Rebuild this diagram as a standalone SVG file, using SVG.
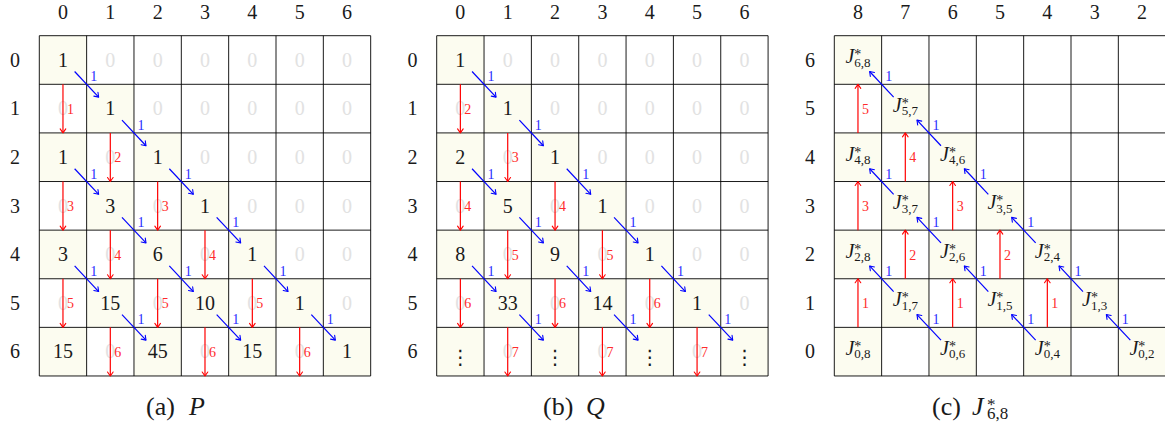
<svg xmlns="http://www.w3.org/2000/svg" xmlns:xlink="http://www.w3.org/1999/xlink" width="1165" height="427" viewBox="0 0 1165 427">
<style>
.hl{fill:#fcfcf0}
.grid{fill:none;stroke:#000;stroke-width:0.9}
.num,.zero,.hd,.cap,.jt{font-family:"Liberation Serif","DejaVu Serif",serif;text-anchor:middle}
.num{font-size:20px;fill:#1a1a1a}
.zero{font-size:20px;fill:#e2e2e2}
.hd{font-size:20px;fill:#1a1a1a}
.jt{font-size:20px;fill:#1a1a1a}
.it{font-style:italic}
.sup{font-size:14px}
.sub{font-size:13px}
.vd{font-family:"DejaVu Sans",sans-serif;font-size:20px;fill:#1a1a1a;text-anchor:middle}
.red{stroke:#ff0000;stroke-width:1.2;fill:none;marker-end:url(#ar)}
.blue{stroke:#0000ff;stroke-width:1.2;fill:none;marker-end:url(#ab)}
.rl{font-family:"Liberation Serif","DejaVu Serif",serif;font-size:14px;fill:#ff2b2b;text-anchor:middle}
.bl{font-family:"Liberation Serif","DejaVu Serif",serif;font-size:14px;fill:#2b2bff;text-anchor:middle}
.cap{font-size:26px;fill:#1a1a1a;text-anchor:start}
</style>
<defs>
<marker id="ar" viewBox="-5 -4 6 8" refX="0" refY="0" markerWidth="6" markerHeight="8" markerUnits="userSpaceOnUse" orient="auto" overflow="visible"><path d="M-4,-2.8 L0,0 L-4,2.8" fill="none" stroke="#ff0000" stroke-width="1.1" stroke-linecap="round" stroke-linejoin="round"/></marker>
<marker id="ab" viewBox="-5 -4 6 8" refX="0" refY="0" markerWidth="6" markerHeight="8" markerUnits="userSpaceOnUse" orient="auto" overflow="visible"><path d="M-4,-2.8 L0,0 L-4,2.8" fill="none" stroke="#0000ff" stroke-width="1.1" stroke-linecap="round" stroke-linejoin="round"/></marker>
<path id="gridlines" class="grid" d="M39.3,35.7H370.68V375.97H39.3Z M86.64,35.7V375.97 M133.98,35.7V375.97 M181.32,35.7V375.97 M228.66,35.7V375.97 M276,35.7V375.97 M323.34,35.7V375.97 M39.3,84.31H370.68 M39.3,132.92H370.68 M39.3,181.53H370.68 M39.3,230.14H370.68 M39.3,278.75H370.68 M39.3,327.36H370.68"/>
<g id="heads">
<text class="hd" x="15" y="66.7">0</text><text class="hd" x="15" y="115.3">1</text><text class="hd" x="15" y="163.9">2</text><text class="hd" x="15" y="212.5">3</text><text class="hd" x="15" y="261.2">4</text><text class="hd" x="15" y="309.8">5</text><text class="hd" x="15" y="358.4">6</text>
<text class="hd" x="62.97" y="18.5">0</text><text class="hd" x="110.31" y="18.5">1</text><text class="hd" x="157.65" y="18.5">2</text><text class="hd" x="204.99" y="18.5">3</text><text class="hd" x="252.33" y="18.5">4</text><text class="hd" x="299.67" y="18.5">5</text><text class="hd" x="347.01" y="18.5">6</text>
</g>
<g id="zeros">
<text class="zero" x="110.31" y="66.7">0</text><text class="zero" x="157.65" y="66.7">0</text><text class="zero" x="204.99" y="66.7">0</text><text class="zero" x="252.33" y="66.7">0</text><text class="zero" x="299.67" y="66.7">0</text><text class="zero" x="347.01" y="66.7">0</text>
<text class="zero" x="62.97" y="115.3">0</text><text class="zero" x="157.65" y="115.3">0</text><text class="zero" x="204.99" y="115.3">0</text><text class="zero" x="252.33" y="115.3">0</text><text class="zero" x="299.67" y="115.3">0</text><text class="zero" x="347.01" y="115.3">0</text>
<text class="zero" x="110.31" y="163.9">0</text><text class="zero" x="204.99" y="163.9">0</text><text class="zero" x="252.33" y="163.9">0</text><text class="zero" x="299.67" y="163.9">0</text><text class="zero" x="347.01" y="163.9">0</text>
<text class="zero" x="62.97" y="212.5">0</text><text class="zero" x="157.65" y="212.5">0</text><text class="zero" x="252.33" y="212.5">0</text><text class="zero" x="299.67" y="212.5">0</text><text class="zero" x="347.01" y="212.5">0</text>
<text class="zero" x="110.31" y="261.2">0</text><text class="zero" x="204.99" y="261.2">0</text><text class="zero" x="299.67" y="261.2">0</text><text class="zero" x="347.01" y="261.2">0</text>
<text class="zero" x="62.97" y="309.8">0</text><text class="zero" x="157.65" y="309.8">0</text><text class="zero" x="252.33" y="309.8">0</text><text class="zero" x="347.01" y="309.8">0</text>
<text class="zero" x="110.31" y="358.4">0</text><text class="zero" x="204.99" y="358.4">0</text><text class="zero" x="299.67" y="358.4">0</text>
</g>
<g id="redDown">
<path class="red" d="M62.97,84.31V132.92"/>
<path class="red" d="M110.31,132.92V181.53"/>
<path class="red" d="M62.97,181.53V230.14"/><path class="red" d="M157.65,181.53V230.14"/>
<path class="red" d="M110.31,230.14V278.75"/><path class="red" d="M204.99,230.14V278.75"/>
<path class="red" d="M62.97,278.75V327.36"/><path class="red" d="M157.65,278.75V327.36"/><path class="red" d="M252.33,278.75V327.36"/>
<path class="red" d="M110.31,327.36V375.97"/><path class="red" d="M204.99,327.36V375.97"/><path class="red" d="M299.67,327.36V375.97"/>
</g>
<g id="blueDown">
<path class="blue" d="M74.64,71.51L98.64,97.11"/>
<path class="blue" d="M121.98,120.12L145.98,145.72"/>
<path class="blue" d="M74.64,168.73L98.64,194.33"/><path class="blue" d="M169.32,168.73L193.32,194.33"/>
<path class="blue" d="M121.98,217.34L145.98,242.94"/><path class="blue" d="M216.66,217.34L240.66,242.94"/>
<path class="blue" d="M74.64,265.95L98.64,291.55"/><path class="blue" d="M169.32,265.95L193.32,291.55"/><path class="blue" d="M264,265.95L288,291.55"/>
<path class="blue" d="M121.98,314.56L145.98,340.16"/><path class="blue" d="M216.66,314.56L240.66,340.16"/><path class="blue" d="M311.34,314.56L335.34,340.16"/>
</g>
<g id="blueLabels">
<text class="bl" x="93.64" y="81.31">1</text><text class="bl" x="140.98" y="129.92">1</text><text class="bl" x="93.64" y="178.53">1</text><text class="bl" x="188.32" y="178.53">1</text><text class="bl" x="140.98" y="227.14">1</text><text class="bl" x="235.66" y="227.14">1</text><text class="bl" x="93.64" y="275.75">1</text><text class="bl" x="188.32" y="275.75">1</text><text class="bl" x="283" y="275.75">1</text><text class="bl" x="140.98" y="324.36">1</text><text class="bl" x="235.66" y="324.36">1</text><text class="bl" x="330.34" y="324.36">1</text>
</g>
</defs>

<g id="panel-a">
<use href="#heads"/>
<g id="a-cells">
<g id="a-0-0"><rect class="hl" x="39.3" y="35.7" width="47.34" height="48.61"/><text class="num" x="62.97" y="66.7">1</text></g>
<g id="a-1-1"><rect class="hl" x="86.64" y="84.31" width="47.34" height="48.61"/><text class="num" x="110.31" y="115.3">1</text></g>
<g id="a-2-0"><rect class="hl" x="39.3" y="132.92" width="47.34" height="48.61"/><text class="num" x="62.97" y="163.9">1</text></g>
<g id="a-2-2"><rect class="hl" x="133.98" y="132.92" width="47.34" height="48.61"/><text class="num" x="157.65" y="163.9">1</text></g>
<g id="a-3-1"><rect class="hl" x="86.64" y="181.53" width="47.34" height="48.61"/><text class="num" x="110.31" y="212.5">3</text></g>
<g id="a-3-3"><rect class="hl" x="181.32" y="181.53" width="47.34" height="48.61"/><text class="num" x="204.99" y="212.5">1</text></g>
<g id="a-4-0"><rect class="hl" x="39.3" y="230.14" width="47.34" height="48.61"/><text class="num" x="62.97" y="261.2">3</text></g>
<g id="a-4-2"><rect class="hl" x="133.98" y="230.14" width="47.34" height="48.61"/><text class="num" x="157.65" y="261.2">6</text></g>
<g id="a-4-4"><rect class="hl" x="228.66" y="230.14" width="47.34" height="48.61"/><text class="num" x="252.33" y="261.2">1</text></g>
<g id="a-5-1"><rect class="hl" x="86.64" y="278.75" width="47.34" height="48.61"/><text class="num" x="110.31" y="309.8">15</text></g>
<g id="a-5-3"><rect class="hl" x="181.32" y="278.75" width="47.34" height="48.61"/><text class="num" x="204.99" y="309.8">10</text></g>
<g id="a-5-5"><rect class="hl" x="276" y="278.75" width="47.34" height="48.61"/><text class="num" x="299.67" y="309.8">1</text></g>
<g id="a-6-0"><rect class="hl" x="39.3" y="327.36" width="47.34" height="48.61"/><text class="num" x="62.97" y="358.4">15</text></g>
<g id="a-6-2"><rect class="hl" x="133.98" y="327.36" width="47.34" height="48.61"/><text class="num" x="157.65" y="358.4">45</text></g>
<g id="a-6-4"><rect class="hl" x="228.66" y="327.36" width="47.34" height="48.61"/><text class="num" x="252.33" y="358.4">15</text></g>
<g id="a-6-6"><rect class="hl" x="323.34" y="327.36" width="47.34" height="48.61"/><text class="num" x="347.01" y="358.4">1</text></g>
</g>
<use href="#zeros"/>
<use href="#gridlines"/>
<g id="a-connectors">
<use href="#redDown"/>
<use href="#blueDown"/>
<use href="#blueLabels"/>
<text class="rl" x="70.47" y="113.6">1</text>
<text class="rl" x="117.81" y="162.2">2</text>
<text class="rl" x="70.47" y="210.8">3</text><text class="rl" x="165.15" y="210.8">3</text>
<text class="rl" x="117.81" y="259.5">4</text><text class="rl" x="212.49" y="259.5">4</text>
<text class="rl" x="70.47" y="308.1">5</text><text class="rl" x="165.15" y="308.1">5</text><text class="rl" x="259.83" y="308.1">5</text>
<text class="rl" x="117.81" y="356.7">6</text><text class="rl" x="212.49" y="356.7">6</text><text class="rl" x="307.17" y="356.7">6</text>
</g>
</g>

<g id="panel-b" transform="translate(397.4,0)">
<use href="#heads"/>
<g id="b-cells">
<g id="b-0-0"><rect class="hl" x="39.3" y="35.7" width="47.34" height="48.61"/><text class="num" x="62.97" y="66.7">1</text></g>
<g id="b-1-1"><rect class="hl" x="86.64" y="84.31" width="47.34" height="48.61"/><text class="num" x="110.31" y="115.3">1</text></g>
<g id="b-2-0"><rect class="hl" x="39.3" y="132.92" width="47.34" height="48.61"/><text class="num" x="62.97" y="163.9">2</text></g>
<g id="b-2-2"><rect class="hl" x="133.98" y="132.92" width="47.34" height="48.61"/><text class="num" x="157.65" y="163.9">1</text></g>
<g id="b-3-1"><rect class="hl" x="86.64" y="181.53" width="47.34" height="48.61"/><text class="num" x="110.31" y="212.5">5</text></g>
<g id="b-3-3"><rect class="hl" x="181.32" y="181.53" width="47.34" height="48.61"/><text class="num" x="204.99" y="212.5">1</text></g>
<g id="b-4-0"><rect class="hl" x="39.3" y="230.14" width="47.34" height="48.61"/><text class="num" x="62.97" y="261.2">8</text></g>
<g id="b-4-2"><rect class="hl" x="133.98" y="230.14" width="47.34" height="48.61"/><text class="num" x="157.65" y="261.2">9</text></g>
<g id="b-4-4"><rect class="hl" x="228.66" y="230.14" width="47.34" height="48.61"/><text class="num" x="252.33" y="261.2">1</text></g>
<g id="b-5-1"><rect class="hl" x="86.64" y="278.75" width="47.34" height="48.61"/><text class="num" x="110.31" y="309.8">33</text></g>
<g id="b-5-3"><rect class="hl" x="181.32" y="278.75" width="47.34" height="48.61"/><text class="num" x="204.99" y="309.8">14</text></g>
<g id="b-5-5"><rect class="hl" x="276" y="278.75" width="47.34" height="48.61"/><text class="num" x="299.67" y="309.8">1</text></g>
<g id="b-6-0"><rect class="hl" x="39.3" y="327.36" width="47.34" height="48.61"/><text class="vd" x="62.97" y="364">⋮</text></g>
<g id="b-6-2"><rect class="hl" x="133.98" y="327.36" width="47.34" height="48.61"/><text class="vd" x="157.65" y="364">⋮</text></g>
<g id="b-6-4"><rect class="hl" x="228.66" y="327.36" width="47.34" height="48.61"/><text class="vd" x="252.33" y="364">⋮</text></g>
<g id="b-6-6"><rect class="hl" x="323.34" y="327.36" width="47.34" height="48.61"/><text class="vd" x="347.01" y="364">⋮</text></g>
</g>
<use href="#zeros"/>
<use href="#gridlines"/>
<g id="b-connectors">
<use href="#redDown"/>
<use href="#blueDown"/>
<use href="#blueLabels"/>
<text class="rl" x="70.47" y="113.6">2</text>
<text class="rl" x="117.81" y="162.2">3</text>
<text class="rl" x="70.47" y="210.8">4</text><text class="rl" x="165.15" y="210.8">4</text>
<text class="rl" x="117.81" y="259.5">5</text><text class="rl" x="212.49" y="259.5">5</text>
<text class="rl" x="70.47" y="308.1">6</text><text class="rl" x="165.15" y="308.1">6</text><text class="rl" x="259.83" y="308.1">6</text>
<text class="rl" x="117.81" y="356.7">7</text><text class="rl" x="212.49" y="356.7">7</text><text class="rl" x="307.17" y="356.7">7</text>
</g>
</g>

<g id="panel-c" transform="translate(795,0)">
<g id="c-heads">
<text class="hd" x="15" y="66.7">6</text><text class="hd" x="15" y="115.3">5</text><text class="hd" x="15" y="163.9">4</text><text class="hd" x="15" y="212.5">3</text><text class="hd" x="15" y="261.2">2</text><text class="hd" x="15" y="309.8">1</text><text class="hd" x="15" y="358.4">0</text>
<text class="hd" x="62.97" y="18.5">8</text><text class="hd" x="110.31" y="18.5">7</text><text class="hd" x="157.65" y="18.5">6</text><text class="hd" x="204.99" y="18.5">5</text><text class="hd" x="252.33" y="18.5">4</text><text class="hd" x="299.67" y="18.5">3</text><text class="hd" x="347.01" y="18.5">2</text>
</g>
<g id="c-cells">
<g id="J-6-8"><rect class="hl" x="39.3" y="35.7" width="47.34" height="48.61"/><text class="jt" x="62.97" y="63.3"><tspan class="it">J</tspan><tspan class="sup" dy="-4">*</tspan><tspan class="sub" dx="-7" dy="7.4">6,8</tspan></text></g>
<g id="J-5-7"><rect class="hl" x="86.64" y="84.31" width="47.34" height="48.61"/><text class="jt" x="110.31" y="111.9"><tspan class="it">J</tspan><tspan class="sup" dy="-4">*</tspan><tspan class="sub" dx="-7" dy="7.4">5,7</tspan></text></g>
<g id="J-4-8"><rect class="hl" x="39.3" y="132.92" width="47.34" height="48.61"/><text class="jt" x="62.97" y="160.5"><tspan class="it">J</tspan><tspan class="sup" dy="-4">*</tspan><tspan class="sub" dx="-7" dy="7.4">4,8</tspan></text></g>
<g id="J-4-6"><rect class="hl" x="133.98" y="132.92" width="47.34" height="48.61"/><text class="jt" x="157.65" y="160.5"><tspan class="it">J</tspan><tspan class="sup" dy="-4">*</tspan><tspan class="sub" dx="-7" dy="7.4">4,6</tspan></text></g>
<g id="J-3-7"><rect class="hl" x="86.64" y="181.53" width="47.34" height="48.61"/><text class="jt" x="110.31" y="209.1"><tspan class="it">J</tspan><tspan class="sup" dy="-4">*</tspan><tspan class="sub" dx="-7" dy="7.4">3,7</tspan></text></g>
<g id="J-3-5"><rect class="hl" x="181.32" y="181.53" width="47.34" height="48.61"/><text class="jt" x="204.99" y="209.1"><tspan class="it">J</tspan><tspan class="sup" dy="-4">*</tspan><tspan class="sub" dx="-7" dy="7.4">3,5</tspan></text></g>
<g id="J-2-8"><rect class="hl" x="39.3" y="230.14" width="47.34" height="48.61"/><text class="jt" x="62.97" y="257.8"><tspan class="it">J</tspan><tspan class="sup" dy="-4">*</tspan><tspan class="sub" dx="-7" dy="7.4">2,8</tspan></text></g>
<g id="J-2-6"><rect class="hl" x="133.98" y="230.14" width="47.34" height="48.61"/><text class="jt" x="157.65" y="257.8"><tspan class="it">J</tspan><tspan class="sup" dy="-4">*</tspan><tspan class="sub" dx="-7" dy="7.4">2,6</tspan></text></g>
<g id="J-2-4"><rect class="hl" x="228.66" y="230.14" width="47.34" height="48.61"/><text class="jt" x="252.33" y="257.8"><tspan class="it">J</tspan><tspan class="sup" dy="-4">*</tspan><tspan class="sub" dx="-7" dy="7.4">2,4</tspan></text></g>
<g id="J-1-7"><rect class="hl" x="86.64" y="278.75" width="47.34" height="48.61"/><text class="jt" x="110.31" y="306.4"><tspan class="it">J</tspan><tspan class="sup" dy="-4">*</tspan><tspan class="sub" dx="-7" dy="7.4">1,7</tspan></text></g>
<g id="J-1-5"><rect class="hl" x="181.32" y="278.75" width="47.34" height="48.61"/><text class="jt" x="204.99" y="306.4"><tspan class="it">J</tspan><tspan class="sup" dy="-4">*</tspan><tspan class="sub" dx="-7" dy="7.4">1,5</tspan></text></g>
<g id="J-1-3"><rect class="hl" x="276" y="278.75" width="47.34" height="48.61"/><text class="jt" x="299.67" y="306.4"><tspan class="it">J</tspan><tspan class="sup" dy="-4">*</tspan><tspan class="sub" dx="-7" dy="7.4">1,3</tspan></text></g>
<g id="J-0-8"><rect class="hl" x="39.3" y="327.36" width="47.34" height="48.61"/><text class="jt" x="62.97" y="355"><tspan class="it">J</tspan><tspan class="sup" dy="-4">*</tspan><tspan class="sub" dx="-7" dy="7.4">0,8</tspan></text></g>
<g id="J-0-6"><rect class="hl" x="133.98" y="327.36" width="47.34" height="48.61"/><text class="jt" x="157.65" y="355"><tspan class="it">J</tspan><tspan class="sup" dy="-4">*</tspan><tspan class="sub" dx="-7" dy="7.4">0,6</tspan></text></g>
<g id="J-0-4"><rect class="hl" x="228.66" y="327.36" width="47.34" height="48.61"/><text class="jt" x="252.33" y="355"><tspan class="it">J</tspan><tspan class="sup" dy="-4">*</tspan><tspan class="sub" dx="-7" dy="7.4">0,4</tspan></text></g>
<g id="J-0-2"><rect class="hl" x="323.34" y="327.36" width="47.34" height="48.61"/><text class="jt" x="347.01" y="355"><tspan class="it">J</tspan><tspan class="sup" dy="-4">*</tspan><tspan class="sub" dx="-7" dy="7.4">0,2</tspan></text></g>
</g>
<use href="#gridlines"/>
<g id="c-connectors">
<path class="red" d="M62.97,132.92V84.31"/>
<path class="red" d="M110.31,181.53V132.92"/>
<path class="red" d="M62.97,230.14V181.53"/><path class="red" d="M157.65,230.14V181.53"/>
<path class="red" d="M110.31,278.75V230.14"/><path class="red" d="M204.99,278.75V230.14"/>
<path class="red" d="M62.97,327.36V278.75"/><path class="red" d="M157.65,327.36V278.75"/><path class="red" d="M252.33,327.36V278.75"/>
<path class="blue" d="M98.64,97.11L74.64,71.51"/>
<path class="blue" d="M145.98,145.72L121.98,120.12"/>
<path class="blue" d="M98.64,194.33L74.64,168.73"/><path class="blue" d="M193.32,194.33L169.32,168.73"/>
<path class="blue" d="M145.98,242.94L121.98,217.34"/><path class="blue" d="M240.66,242.94L216.66,217.34"/>
<path class="blue" d="M98.64,291.55L74.64,265.95"/><path class="blue" d="M193.32,291.55L169.32,265.95"/><path class="blue" d="M288,291.55L264,265.95"/>
<path class="blue" d="M145.98,340.16L121.98,314.56"/><path class="blue" d="M240.66,340.16L216.66,314.56"/><path class="blue" d="M335.34,340.16L311.34,314.56"/>
<use href="#blueLabels"/>
<text class="rl" x="70.47" y="113.6">5</text>
<text class="rl" x="117.81" y="162.2">4</text>
<text class="rl" x="70.47" y="210.8">3</text><text class="rl" x="165.15" y="210.8">3</text>
<text class="rl" x="117.81" y="259.5">2</text><text class="rl" x="212.49" y="259.5">2</text>
<text class="rl" x="70.47" y="308.1">1</text><text class="rl" x="165.15" y="308.1">1</text><text class="rl" x="259.83" y="308.1">1</text>
</g>
</g>

<g id="captions">
<text class="cap" x="146" y="415">(a)<tspan class="it" x="189">P</tspan></text>
<text class="cap" x="543" y="415">(b)<tspan class="it" x="586">Q</tspan></text>
<text class="cap" x="932" y="415">(c)<tspan class="it" x="972">J</tspan><tspan font-size="17" x="987" dy="-5">*</tspan><tspan font-size="17" x="987" dy="9">6,8</tspan></text>
</g>
</svg>
